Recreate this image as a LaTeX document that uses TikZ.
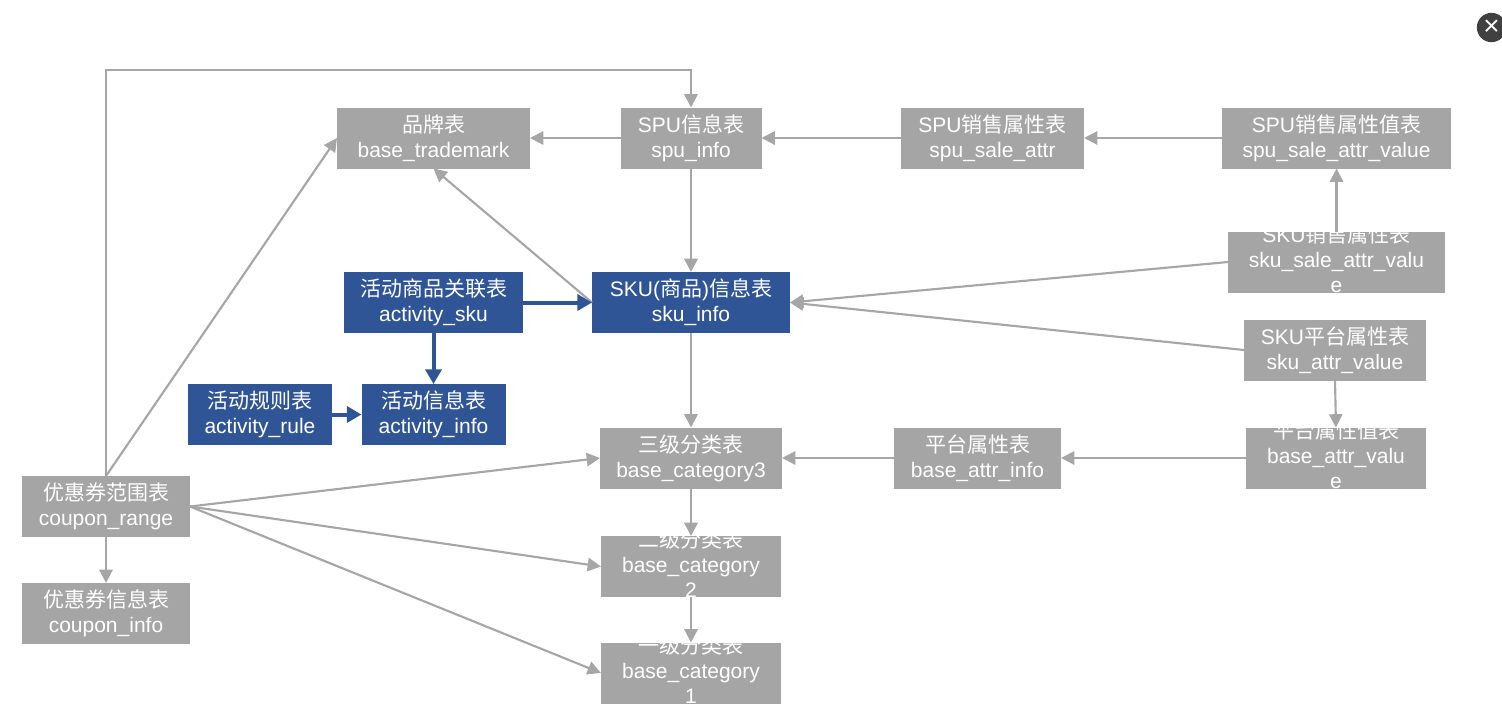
\documentclass[tikz,border=0pt]{standalone}
\usepackage{fontspec}
\setmainfont{Liberation Sans}
\newfontfamily\cjk{Noto Sans CJK SC}
\usetikzlibrary{
    positioning,
    calc,
    arrows.meta
}
\definecolor{tablegray}{HTML}{A5A5A5}
\definecolor{linegray}{HTML}{A6A6A6}
\definecolor{tableblue}{HTML}{2F5597}
\newcommand{\zh}[1]{{\cjk #1}}
% three lines do not fit the box: they run over its edges
\newcommand{\tallcell}[1]{\raisebox{-8.25pt}{\smash{\begin{tabular}{@{}c@{}}#1\end{tabular}}}}
\tikzset{
  basic/.style = {
      rectangle,
      draw=none,
      text=white,
      align=center,
      inner sep=0pt,
      outer sep=0pt,
      minimum height=45.75pt,
      font=\fontsize{15.75}{18.75}\selectfont
  },
  grayblock/.style = {
      basic,
      fill=tablegray,
      minimum width=#1*0.75pt
  },
  blueblock/.style = {
      basic,
      fill=tableblue,
      minimum width=#1*0.75pt
  },
  edge/.style = {
      draw=linegray,
      line width=1.6pt,
      -{Triangle[length=10pt,width=10pt]}
  },
  blueedge/.style = {
      draw=tableblue,
      line width=3pt,
      -{Triangle[length=11pt,width=12pt]}
  },
  closebtn/.style = {
      circle,
      fill=black!75,
      text=white,
      minimum size=22pt,
      inner sep=0pt,
      font=\fontsize{21}{21}\selectfont
  }
}
\begin{document}
\begin{tikzpicture}[x=0.75pt,y=-0.75pt]
    \useasboundingbox (0,0) rectangle (1502,711);
    % Top row
    \node[grayblock=193] (trademark) at (433.5,138) {\zh{品牌表}\\base\_trademark};
    \node[grayblock=141] (spuinfo) at (691,138) {SPU\zh{信息表}\\spu\_info};
    \node[grayblock=183] (spusale) at (992.5,138) {SPU\zh{销售属性表}\\spu\_sale\_attr};
    \node[grayblock=229] (spuvalue) at (1336.5,138) {SPU\zh{销售属性值表}\\spu\_sale\_attr\_value};
    % SKU tables
    \node[blueblock=198] (skuinfo) at (691,302.5) {SKU(\zh{商品})\zh{信息表}\\sku\_info};
    \node[grayblock=217] (skusale) at (1336.5,262) {\tallcell{SKU\zh{销售属性表}\\sku\_sale\_attr\_valu\\e}};
    \node[grayblock=182] (skuattr) at (1335,350) {SKU\zh{平台属性表}\\sku\_attr\_value};
    % Activity tables
    \node[blueblock=179] (actsku) at (433.5,302.5) {\zh{活动商品关联表}\\activity\_sku};
    \node[blueblock=144] (actinfo) at (433.5,414.5) {\zh{活动信息表}\\activity\_info};
    \node[blueblock=144] (actrule) at (260,414.5) {\zh{活动规则表}\\activity\_rule};
    % Categories and attributes
    \node[grayblock=182] (catthree) at (691,458) {\zh{三级分类表}\\base\_category3};
    \node[grayblock=180] (cattwo) at (691,566.5) {\tallcell{\zh{二级分类表}\\base\_category\\2}};
    \node[grayblock=180] (catone) at (691,673) {\tallcell{\zh{一级分类表}\\base\_category\\1}};
    \node[grayblock=167] (attrinfo) at (977.5,458) {\zh{平台属性表}\\base\_attr\_info};
    \node[grayblock=180] (attrvalue) at (1336,458) {\tallcell{\zh{平台属性值表}\\base\_attr\_valu\\e}};
    % Coupon tables
    \node[grayblock=168] (couponrange) at (106,506.5) {\zh{优惠券范围表}\\coupon\_range};
    \node[grayblock=168] (couponinfo) at (106,613.5) {\zh{优惠券信息表}\\coupon\_info};
    \node[closebtn] (close) at (1491.5,27.5) {×};
    \coordinate (toprail) at (0,70);
    % Edges
    \draw[edge] (spuinfo) -- (trademark);
    \draw[edge] (spusale) -- (spuinfo);
    \draw[edge] (spuvalue) -- (spusale);
    \draw[edge] (skusale) -- (spuvalue);
    \draw[edge] (spuinfo) -- (skuinfo);
    \draw[edge] (skuinfo.west) -- (trademark.south);
    \draw[edge] (skusale.west) -- (skuinfo.east);
    \draw[edge] (skuattr.west) -- (skuinfo.east);
    \draw[edge] (skuattr.south) -- (attrvalue.north);
    \draw[edge] (attrvalue) -- (attrinfo);
    \draw[edge] (attrinfo) -- (catthree);
    \draw[edge] (skuinfo) -- (catthree);
    \draw[edge] (catthree) -- (cattwo);
    \draw[edge] (cattwo) -- (catone);
    \draw[edge] (couponrange.east) -- (catthree.west);
    \draw[edge] (couponrange.east) -- (cattwo.west);
    \draw[edge] (couponrange.east) -- (catone.west);
    \draw[edge] (couponrange) -- (couponinfo);
    \draw[edge] (couponrange.north) -- (trademark.west);
    \draw[edge] (couponrange.north) |- (toprail -| spuinfo.north) -- (spuinfo.north);
    \draw[blueedge] (actsku) -- (skuinfo);
    \draw[blueedge] (actsku) -- (actinfo);
    \draw[blueedge] (actrule) -- (actinfo);
\end{tikzpicture}
\end{document}
